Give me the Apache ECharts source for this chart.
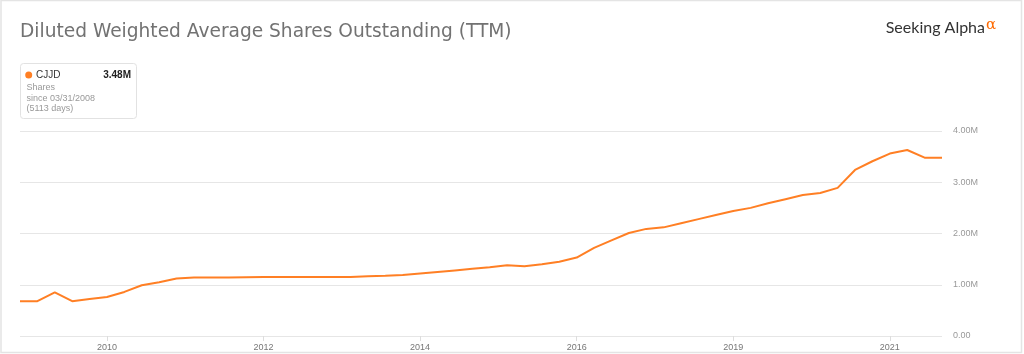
<!DOCTYPE html>
<html style="height: 100%">
<head>
    <meta charset="utf-8">
    <title>Diluted Weighted Average Shares Outstanding (TTM)</title>
    <script src="https://cdn.jsdelivr.net/npm/echarts@6/dist/echarts.min.js"></script>
</head>
<body style="height: 100%; margin: 0; background: #fff">
    <div id="main" style="width: 1024px; height: 354px"></div>
    <script type="text/javascript">

        // quarter ends shown on the x axis
        var quarters = [
            '2008-12-31', '2009-03-31', '2009-06-30', '2009-09-30', '2009-12-31',
            '2010-03-31', '2010-06-30', '2010-09-30', '2010-12-31',
            '2011-03-31', '2011-06-30', '2011-09-30', '2011-12-31',
            '2012-03-31', '2012-06-30', '2012-09-30', '2012-12-31',
            '2013-03-31', '2013-06-30', '2013-09-30', '2013-12-31',
            '2014-03-31', '2014-06-30', '2014-09-30', '2014-12-31',
            '2015-03-31', '2015-06-30', '2015-09-30', '2015-12-31',
            '2016-03-31', '2016-06-30', '2016-09-30', '2016-12-31',
            '2017-03-31', '2017-06-30', '2017-09-30', '2017-12-31',
            '2018-03-31', '2018-06-30', '2018-09-30', '2018-12-31',
            '2019-03-31', '2019-06-30', '2019-09-30', '2019-12-31',
            '2020-03-31', '2020-06-30', '2020-09-30', '2020-12-31',
            '2021-03-31', '2021-06-30', '2021-09-30', '2021-12-31',
            '2022-03-31'
        ];

        // CJJD diluted shares (TTM)
        var shares = [
            680000, 680000, 850000, 680000, 720000, 760000, 860000, 990000, 1050000, 1120000,
            1140000, 1140000, 1140000, 1145000, 1150000, 1150000, 1150000, 1150000, 1150000, 1150000,
            1165000, 1175000, 1190000, 1220000, 1250000, 1280000, 1310000, 1340000, 1380000, 1360000,
            1400000, 1450000, 1530000, 1720000, 1865000, 2010000, 2090000, 2120000, 2200000, 2280000,
            2360000, 2440000, 2500000, 2590000, 2670000, 2750000, 2790000, 2890000, 3240000, 3410000,
            3560000, 3630000, 3480000, 3480000
        ];

        var yTicks = [0, 1000000, 2000000, 3000000, 4000000];

        var ticker = 'CJJD';
        var lineColor = '#ff7f24';

        function fmtShares(v) {
            if (v === 0) return '0.00';
            return (v / 1000000).toFixed(2) + 'M';
        }

        // year label every 9 quarters, first one at 2010
        function showLabel(index) {
            return index >= 5 && (index - 5) % 9 === 0;
        }

        var myChart = echarts.init(document.getElementById('main'));

        var option = {
            backgroundColor: '#fff',
            animation: false,
            title: {
                text: 'Diluted Weighted Average Shares Outstanding (TTM)',
                left: 15,
                top: 18,
                textStyle: {
                    fontFamily: '"DejaVu Sans", sans-serif',
                    fontSize: 18.6,
                    fontWeight: 'normal',
                    color: '#727272'
                }
            },
            grid: {
                left: 20,
                right: 82,
                top: 131,
                bottom: 18
            },
            xAxis: {
                type: 'category',
                data: quarters,
                boundaryGap: false,
                axisLine: { show: false },
                axisTick: {
                    show: true,
                    interval: showLabel,
                    length: 5,
                    lineStyle: { color: '#dddddd' }
                },
                axisLabel: {
                    interval: showLabel,
                    margin: 7,
                    fontFamily: 'Liberation Sans, Arial, sans-serif',
                    fontSize: 9,
                    color: '#777',
                    formatter: function (v) { return v.substring(0, 4); }
                },
                splitLine: { show: false }
            },
            yAxis: {
                type: 'value',
                position: 'right',
                min: yTicks[0],
                max: yTicks[yTicks.length - 1],
                interval: yTicks[1] - yTicks[0],
                axisLine: { show: false },
                axisTick: { show: false },
                axisLabel: {
                    margin: 11,
                    fontFamily: 'Liberation Sans, Arial, sans-serif',
                    fontSize: 9,
                    color: '#999',
                    formatter: fmtShares
                },
                splitLine: { lineStyle: { color: '#e6e6e6', width: 1 } }
            },
            series: [{
                name: ticker,
                type: 'line',
                data: shares,
                symbol: 'none',
                smooth: false,
                lineStyle: { color: lineColor, width: 2 },
                itemStyle: { color: lineColor }
            }],
            graphic: [
                // outer frame
                {
                    type: 'rect',
                    silent: true,
                    shape: { x: 1, y: 0.5, width: 1020.5, height: 352 },
                    style: { fill: 'none', stroke: '#e4e4e4', lineWidth: 1.5 }
                },
                // logo
                {
                    type: 'text',
                    style: {
                        x: 985, y: 28, text: 'Seeking Alpha',
                        textAlign: 'right', textVerticalAlign: 'middle',
                        font: '16px Lato, "Open Sans", sans-serif', fill: '#333'
                    }
                },
                {
                    type: 'text',
                    style: {
                        x: 986, y: 25.5, text: 'α',
                        textAlign: 'left', textVerticalAlign: 'middle',
                        font: '15px "DejaVu Serif", serif', fill: '#ff6a00'
                    }
                },
                // legend box
                {
                    type: 'rect',
                    shape: { x: 20.5, y: 63.5, width: 116, height: 55, r: 3 },
                    style: { fill: '#fff', stroke: '#e2e2e2', lineWidth: 1 }
                },
                {
                    type: 'circle',
                    shape: { cx: 28.7, cy: 75, r: 3.5 },
                    style: { fill: lineColor }
                },
                {
                    type: 'text',
                    style: {
                        x: 36, y: 75, text: ticker,
                        textVerticalAlign: 'middle',
                        font: '10px "Liberation Sans", Arial, sans-serif', fill: '#333'
                    }
                },
                {
                    type: 'text',
                    style: {
                        x: 131, y: 75, text: fmtShares(shares[shares.length - 1]),
                        textAlign: 'right', textVerticalAlign: 'middle',
                        font: 'bold 10px "Liberation Sans", Arial, sans-serif', fill: '#222'
                    }
                },
                {
                    type: 'text',
                    style: {
                        x: 26.5, y: 88, text: 'Shares',
                        textVerticalAlign: 'middle',
                        font: '9px "Liberation Sans", Arial, sans-serif', fill: '#999'
                    }
                },
                {
                    type: 'text',
                    style: {
                        x: 26.5, y: 99, text: 'since 03/31/2008',
                        textVerticalAlign: 'middle',
                        font: '9px "Liberation Sans", Arial, sans-serif', fill: '#999'
                    }
                },
                {
                    type: 'text',
                    style: {
                        x: 26.5, y: 108.5, text: '(5113 days)',
                        textVerticalAlign: 'middle',
                        font: '9px "Liberation Sans", Arial, sans-serif', fill: '#999'
                    }
                }
            ]
        };

        myChart.setOption(option);

        window.onresize = function () {
            myChart.resize();
        };
    </script>
</body>
</html>
